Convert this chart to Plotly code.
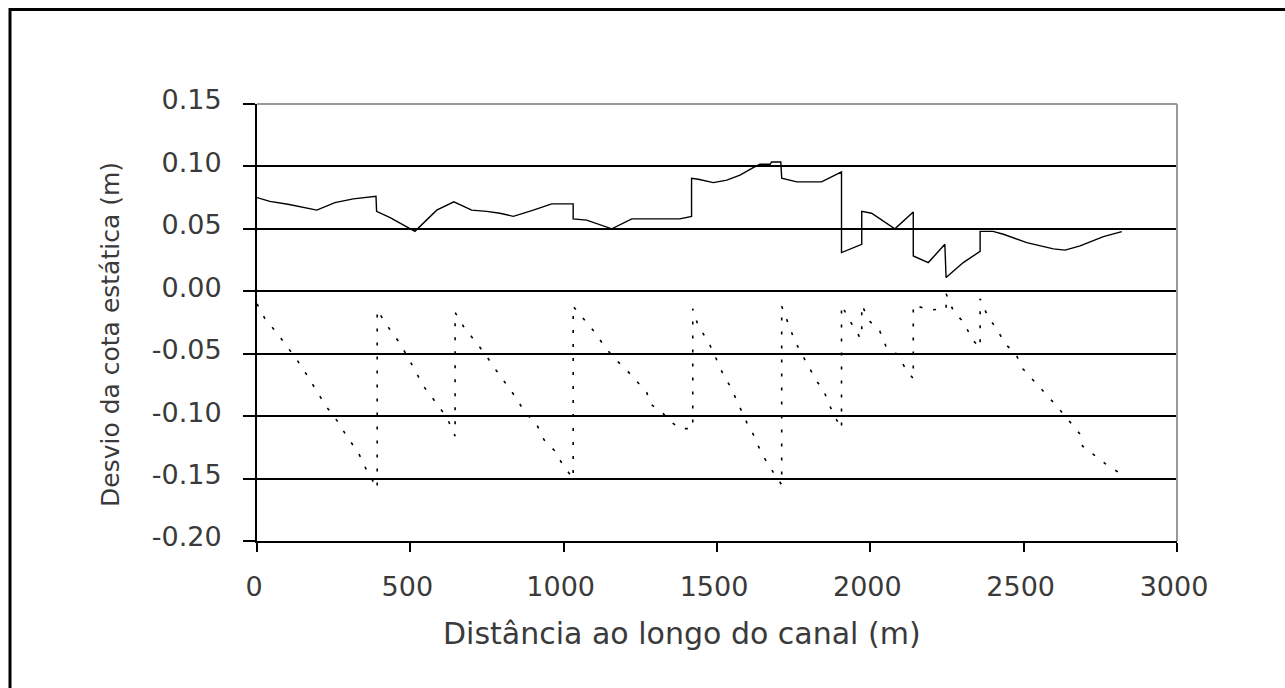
import plotly.graph_objects as go

# Solid series (upper)
sol_x = [0, 42, 101, 195, 254, 314, 388, 390, 434, 515,
         586, 642, 700, 749, 792, 836, 901, 961, 1031, 1031,
         1075, 1157, 1222, 1379, 1417, 1417, 1439, 1488, 1532, 1575,
         1618, 1640, 1673, 1678, 1708, 1711, 1760, 1841, 1906, 1906,
         1972, 1972, 2004, 2080, 2140, 2140, 2189, 2243, 2247, 2303,
         2358, 2358, 2400, 2434, 2510, 2597, 2635, 2684, 2760, 2820]
sol_y = [0.075, 0.072, 0.0697, 0.065, 0.071, 0.074, 0.076, 0.064, 0.059, 0.048,
         0.065, 0.0716, 0.065, 0.064, 0.0625, 0.060, 0.065, 0.070, 0.070, 0.058,
         0.057, 0.050, 0.058, 0.058, 0.060, 0.0905, 0.0897, 0.087, 0.089, 0.093,
         0.099, 0.1017, 0.1017, 0.1036, 0.1036, 0.0905, 0.0876, 0.0876, 0.0956, 0.031,
         0.0376, 0.064, 0.0625, 0.050, 0.0635, 0.0283, 0.023, 0.0376, 0.011, 0.023,
         0.032, 0.048, 0.048, 0.0457, 0.039, 0.034, 0.033, 0.0363, 0.0438, 0.0478]

# Dotted series (lower sawtooth)
dot_x = [0, 26, 64, 129, 160, 225, 262, 295, 330, 355, 392,
         392, 423, 461, 488, 543, 580, 619, 646,
         646, 673, 711, 743, 776, 841, 874, 912, 936, 972, 997, 1031,
         1031, 1070, 1102, 1130, 1162, 1205, 1233, 1271, 1282, 1325, 1341, 1380, 1421,
         1421, 1439, 1471, 1490, 1517, 1545, 1570, 1597, 1619, 1644, 1670, 1711,
         1711, 1733, 1754, 1798, 1825, 1847, 1868, 1890, 1906,
         1906, 1934, 1966, 1972,
         1972, 1998, 2031, 2051, 2088, 2115, 2140,
         2140, 2195, 2247,
         2247, 2273, 2306, 2331, 2358,
         2358, 2383, 2414, 2441, 2474, 2497, 2529, 2570, 2597, 2649, 2684, 2692, 2740, 2766, 2809]
dot_y = [-0.010, -0.022, -0.033, -0.0545, -0.066, -0.092, -0.104, -0.117, -0.129, -0.142, -0.158,
         -0.015, -0.027, -0.040, -0.051, -0.076, -0.088, -0.101, -0.116,
         -0.017, -0.028, -0.040, -0.050, -0.062, -0.084, -0.097, -0.1065, -0.119, -0.128, -0.139, -0.150,
         -0.012, -0.024, -0.033, -0.043, -0.053, -0.063, -0.0705, -0.081, -0.090, -0.098, -0.103, -0.110, -0.110,
         -0.014, -0.028, -0.040, -0.050, -0.065, -0.077, -0.091, -0.105, -0.115, -0.129, -0.140, -0.155,
         -0.012, -0.027, -0.040, -0.060, -0.072, -0.079, -0.092, -0.103, -0.110,
         -0.011, -0.024, -0.037, -0.037,
         -0.011, -0.024, -0.032, -0.044, -0.0505, -0.062, -0.070,
         -0.011, -0.015, -0.014,
         -0.002, -0.017, -0.025, -0.0385, -0.045,
         -0.006, -0.020, -0.031, -0.0425, -0.050, -0.062, -0.0705, -0.081, -0.089, -0.104, -0.1145, -0.124, -0.133, -0.138, -0.145]

x_ticks = [0, 500, 1000, 1500, 2000, 2500, 3000]
y_ticks = [-0.20, -0.15, -0.10, -0.05, 0.00, 0.05, 0.10, 0.15]
y_tick_text = ["-0.20", "-0.15", "-0.10", "-0.05", "0.00", "0.05", "0.10", "0.15"]

x_title = "Distância ao longo do canal (m)"
y_title = "Desvio da cota estática (m)"

W, H = 1285, 688
L, R, T, B = 257, 1177, 104, 541


def px(xp):
    return (xp - L) / (R - L)


def py(yp):
    return (B - yp) / (B - T)


fig = go.Figure()
fig.add_trace(go.Scatter(x=dot_x, y=dot_y, mode="lines",
                         line=dict(color="black", width=1.6, dash="3px,11px"),
                         showlegend=False, hoverinfo="skip"))
fig.add_trace(go.Scatter(x=sol_x, y=sol_y, mode="lines",
                         line=dict(color="black", width=1.4),
                         showlegend=False, hoverinfo="skip"))

font_fam = "DejaVu Sans"
txt_col = "#3a3a3a"
fig.update_layout(
    width=W, height=H,
    margin=dict(l=L, r=W - R, t=T, b=H - B),
    paper_bgcolor="white", plot_bgcolor="white",
    showlegend=False,
    xaxis=dict(range=[0, 3000], tickvals=x_ticks, showgrid=False, zeroline=False,
               showline=True, linecolor="black", linewidth=2,
               ticks="outside", ticklen=9, tickwidth=2, tickcolor="black",
               ticklabelstandoff=12, ticklabelshift=-3,
               tickfont=dict(family=font_fam, size=27, color=txt_col)),
    yaxis=dict(range=[-0.20, 0.15], tickvals=y_ticks, ticktext=y_tick_text,
               showgrid=True, gridcolor="black", gridwidth=2,
               zeroline=True, zerolinecolor="black", zerolinewidth=2,
               showline=True, linecolor="black", linewidth=2,
               ticks="outside", ticklen=12, tickwidth=2, tickcolor="black",
               ticklabelstandoff=16, ticklabelshift=-4,
               tickfont=dict(family=font_fam, size=27, color=txt_col)),
    shapes=[
        dict(type="line", xref="paper", yref="paper", x0=0, x1=1, y0=1, y1=1,
             line=dict(color="#999999", width=2), layer="above"),
        dict(type="line", xref="paper", yref="paper", x0=1, x1=1, y0=0, y1=1,
             line=dict(color="#999999", width=2), layer="above"),
        dict(type="rect", xref="paper", yref="paper",
             x0=px(10), x1=px(1300), y0=py(9.5), y1=py(700),
             line=dict(color="black", width=3), fillcolor="rgba(0,0,0,0)"),
    ],
    annotations=[
        dict(text=x_title, xref="paper", yref="paper", x=px(682), y=py(633),
             xanchor="center", yanchor="middle", showarrow=False,
             font=dict(family=font_fam, size=30, color=txt_col)),
        dict(text=y_title, xref="paper", yref="paper", x=px(110), y=py(335),
             xanchor="center", yanchor="middle", showarrow=False, textangle=-90,
             font=dict(family=font_fam, size=25, color=txt_col)),
    ],
)

fig.write_html("out.html")
